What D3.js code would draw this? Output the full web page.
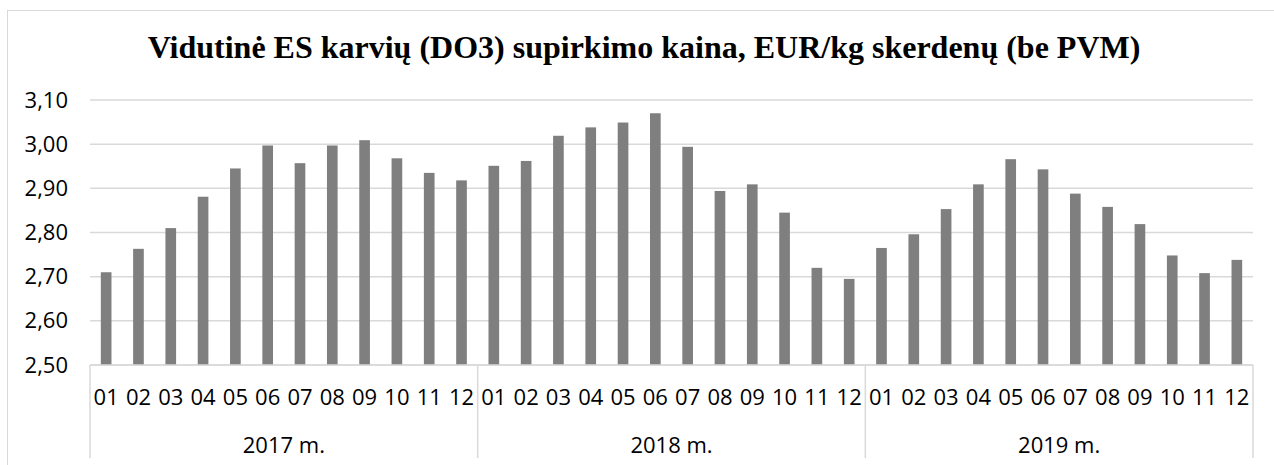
<!DOCTYPE html>
<html>
<head>
<meta charset="utf-8">
<script src="https://cdn.jsdelivr.net/npm/d3@7"></script>
<style>
  body { margin: 0; background: #fff; }
  svg { display: block; }
</style>
</head>
<body>
<script>
var width = 1274, height = 465;

var title = "Vidutinė ES karvių (DO3) supirkimo kaina, EUR/kg skerdenų (be PVM)";
var years = ["2017 m.", "2018 m.", "2019 m."];
var months = ["01","02","03","04","05","06","07","08","09","10","11","12"];
var yTicks = [2.5, 2.6, 2.7, 2.8, 2.9, 3.0, 3.1];

var v2017 = [2.710, 2.763, 2.810, 2.881, 2.945, 2.997, 2.957, 2.997, 3.009, 2.968, 2.935, 2.918];
var v2018 = [2.951, 2.962, 3.019, 3.038, 3.049, 3.070, 2.994, 2.894, 2.909, 2.845, 2.720, 2.695];
var v2019 = [2.765, 2.796, 2.853, 2.909, 2.966, 2.943, 2.888, 2.858, 2.819, 2.748, 2.708, 2.738];

var values = [v2017, v2018, v2019];

// flatten into one row per month
var data = [];
years.forEach(function(y, i){
    months.forEach(function(m, j){
        data.push({year: y, month: m, key: y + "-" + m, value: values[i][j]});
    });
});

var margin = {left: 90, right: 21, top: 100, bottom: 100};
var plotRight = width - margin.right;
var plotBottom = 365;
var labelFont = "'Open Sans', sans-serif";

var svg = d3.select("body").append("svg")
    .attr("width", width)
    .attr("height", height);

// chart border
svg.append("rect")
    .attr("x", 7.5).attr("y", 10.5)
    .attr("width", width + 10).attr("height", height + 10)
    .attr("fill", "none")
    .attr("stroke", "#d9d9d9")
    .attr("stroke-width", 1);

svg.append("text")
    .attr("x", 644)
    .attr("y", 58)
    .attr("text-anchor", "middle")
    .style("font-family", "'Liberation Serif', 'Times New Roman', serif")
    .style("font-weight", "bold")
    .style("font-size", "32px")
    .attr("fill", "#000")
    .text(title);

var x = d3.scaleBand()
    .domain(data.map(function(d){ return d.key; }))
    .range([margin.left, plotRight])
    .paddingInner(0.67)
    .paddingOuter(0.335);

var y = d3.scaleLinear()
    .domain([2.5, 3.1])
    .range([plotBottom, margin.top]);

// gridlines
svg.append("g")
    .selectAll("line")
    .data(yTicks)
    .enter()
    .append("line")
    .attr("x1", margin.left)
    .attr("x2", plotRight)
    .attr("y1", function(d){ return y(d); })
    .attr("y2", function(d){ return y(d); })
    .attr("stroke", "#d9d9d9")
    .attr("stroke-width", 1.5);

// y axis labels
var yAxis = d3.axisLeft(y)
    .tickValues(yTicks)
    .tickSize(0)
    .tickPadding(22)
    .tickFormat(function(d){ return d3.format(".2f")(d).replace(".", ","); });

var gy = svg.append("g")
    .attr("transform", "translate(" + margin.left + ",0)")
    .call(yAxis);
gy.select(".domain").remove();
gy.selectAll("text")
    .style("font-family", labelFont)
    .style("font-size", "22px")
    .attr("fill", "#000");

// bars
svg.append("g")
    .selectAll("rect")
    .data(data)
    .enter()
    .append("rect")
    .attr("x", function(d){ return x(d.key); })
    .attr("width", x.bandwidth())
    .attr("y", function(d){ return y(d.value); })
    .attr("height", function(d){ return plotBottom - y(d.value); })
    .attr("fill", "#7f7f7f");

// x axis: month labels
var xAxis = d3.axisBottom(x)
    .tickSize(0)
    .tickPadding(24)
    .tickFormat(function(k){ return k.split("-")[1]; });

var gx = svg.append("g")
    .attr("transform", "translate(0," + plotBottom + ")")
    .call(xAxis);
gx.select(".domain").remove();
gx.selectAll("text")
    .style("font-family", labelFont)
    .style("font-size", "22px")
    .attr("fill", "#000");

// baseline
svg.append("line")
    .attr("x1", margin.left).attr("x2", plotRight)
    .attr("y1", plotBottom).attr("y2", plotBottom)
    .attr("stroke", "#d9d9d9")
    .attr("stroke-width", 1.5);

// year group separators and labels
var step = x.step();
var groupW = step * months.length;
var sep = d3.range(years.length + 1).map(function(i){ return margin.left + i * groupW; });

svg.append("g")
    .selectAll("line")
    .data(sep)
    .enter()
    .append("line")
    .attr("x1", function(d){ return d; })
    .attr("x2", function(d){ return d; })
    .attr("y1", plotBottom)
    .attr("y2", 458)
    .attr("stroke", "#d9d9d9")
    .attr("stroke-width", 1.5);

svg.append("g")
    .selectAll("text")
    .data(years)
    .enter()
    .append("text")
    .attr("x", function(d, i){ return margin.left + (i + 0.5) * groupW; })
    .attr("y", 453)
    .attr("text-anchor", "middle")
    .style("font-family", labelFont)
    .style("font-size", "22px")
    .attr("fill", "#000")
    .text(function(d){ return d; });
</script>
</body>
</html>
